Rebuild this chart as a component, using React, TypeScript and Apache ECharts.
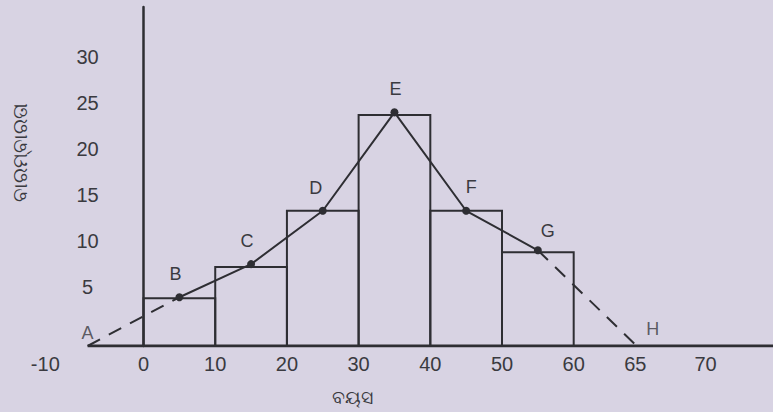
import React, { useEffect, useRef } from "react";
import * as echarts from "echarts";

// ---- data ----
const CLASS_EDGES = [0, 10, 20, 30, 40, 50, 60];
const FREQUENCIES = [3.8, 7.2, 13.3, 23.7, 13.3, 8.8];
const MIDPOINTS = [5, 15, 25, 35, 45, 55];
const POLYGON_Y = [3.9, 7.5, 13.3, 24.0, 13.3, 9.0];
const POINT_NAMES = ["B", "C", "D", "E", "F", "G"];
const END_NAMES = ["A", "H"];
const END_X = [-7.8, 68.8];

const X_TICK_LABELS = ["-10", "0", "10", "20", "30", "40", "50", "60", "65", "70"];
const X_TICK_VALUES = [-13.7, 0, 10, 20, 30, 40, 50, 60, 68.6, 78.4];
const Y_TICK_VALUES = [5, 10, 15, 20, 25, 30];

const X_AXIS_NAME = "ବୟସ";
const Y_AXIS_NAME = "ବାରମ୍ବାରତା";

// ---- layout / style ----
const GRID_LEFT = 36;
const X_MIN = -15;
const X_MAX = 87.8;
const Y_MIN = -1.4;
const Y_MAX = 35.45;
const INK = "#2e2e33";
const TEXT = "#3a3a40";
const BG = "#d8d3e3";
const FONT = "'Liberation Sans', Arial, sans-serif";
const POINT_LABEL_OFFSETS = [
  [-4, -23],
  [-4, -23],
  [-7, -23],
  [1, -23],
  [5, -24],
  [10, -19],
];
const END_LABEL_OFFSETS = [
  [0, -13],
  [16, -17],
];

export default function App() {
  const ref = useRef<HTMLDivElement>(null);

  useEffect(() => {
    if (!ref.current) return;
    const chart = echarts.init(ref.current, null, { renderer: "svg" });

    const barData = FREQUENCIES.map((f, i) => [CLASS_EDGES[i], CLASS_EDGES[i + 1], f]);
    const polygonData = MIDPOINTS.map((x, i) => ({
      value: [x, POLYGON_Y[i]],
      label: { offset: POINT_LABEL_OFFSETS[i] },
    }));
    const endData = END_X.map((x, i) => ({
      value: [x, Y_MIN],
      label: { offset: END_LABEL_OFFSETS[i] },
    }));

    const plotWidth = 773 - GRID_LEFT;
    // place the y axis where x = 0 lies on the x scale
    const yAxisOffset = -((0 - X_MIN) / (X_MAX - X_MIN)) * plotWidth;

    const option: any = {
      animation: false,
      backgroundColor: BG,
      textStyle: { fontFamily: FONT },
      grid: { left: GRID_LEFT, right: 0, top: 7, bottom: 66, outerBoundsMode: "none" },
      xAxis: {
        type: "value",
        min: X_MIN,
        max: X_MAX,
        axisLine: { show: false },
        axisTick: { show: false },
        splitLine: { show: false },
        axisLabel: {
          customValues: X_TICK_VALUES,
          margin: 8,
          fontSize: 20,
          color: TEXT,
          fontFamily: FONT,
          formatter: (v: number) => {
            const i = X_TICK_VALUES.findIndex((t) => Math.abs(t - v) < 0.01);
            return i >= 0 ? X_TICK_LABELS[i] : "";
          },
        },
      },
      yAxis: {
        type: "value",
        position: "left",
        offset: yAxisOffset,
        min: Y_MIN,
        max: Y_MAX,
        axisLine: { show: true, onZero: false, lineStyle: { color: INK, width: 2.5 } },
        axisTick: { show: false },
        splitLine: { show: false },
        axisLabel: {
          customValues: Y_TICK_VALUES,
          margin: 56,
          align: "center",
          fontSize: 20,
          color: TEXT,
          fontFamily: FONT,
        },
      },
      graphic: [
        {
          type: "text",
          x: 20,
          y: 152,
          rotation: Math.PI / 2,
          style: {
            text: Y_AXIS_NAME,
            fill: TEXT,
            fontSize: 20,
            fontFamily: FONT,
            align: "center",
            verticalAlign: "middle",
          },
        },
        {
          type: "text",
          x: 352,
          y: 397,
          style: {
            text: X_AXIS_NAME,
            fill: TEXT,
            fontSize: 19,
            fontFamily: FONT,
            align: "center",
            verticalAlign: "middle",
          },
        },
      ],
      series: [
        {
          type: "custom",
          name: "histogram",
          data: barData,
          encode: { x: [0, 1], y: 2 },
          silent: true,
          renderItem: (_params: any, api: any) => {
            const x0 = api.value(0);
            const x1 = api.value(1);
            const h = api.value(2);
            const p0 = api.coord([x0, h]);
            const p1 = api.coord([x1, Y_MIN]);
            return {
              type: "rect",
              shape: { x: p0[0], y: p0[1], width: p1[0] - p0[0], height: p1[1] - p0[1] },
              style: { fill: "none", stroke: INK, lineWidth: 2 },
            };
          },
        },
        {
          type: "line",
          name: "x axis",
          data: [
            [END_X[0], Y_MIN],
            [X_MAX, Y_MIN],
          ],
          showSymbol: false,
          silent: true,
          lineStyle: { color: INK, width: 3 },
        },
        {
          type: "line",
          name: "lead-in",
          data: [
            [END_X[0], Y_MIN],
            [MIDPOINTS[0], POLYGON_Y[0]],
          ],
          showSymbol: false,
          silent: true,
          lineStyle: { color: INK, width: 2, type: [14, 10] },
        },
        {
          type: "line",
          name: "lead-out",
          data: [
            [MIDPOINTS[MIDPOINTS.length - 1], POLYGON_Y[POLYGON_Y.length - 1]],
            [END_X[1], Y_MIN],
          ],
          showSymbol: false,
          silent: true,
          lineStyle: { color: INK, width: 2, type: [14, 10] },
        },
        {
          type: "line",
          name: "frequency polygon",
          data: polygonData,
          symbol: "circle",
          symbolSize: 8,
          showSymbol: true,
          itemStyle: { color: INK },
          lineStyle: { color: INK, width: 2 },
          label: {
            show: true,
            position: "inside",
            fontSize: 18,
            color: TEXT,
            fontFamily: FONT,
            formatter: (p: any) => POINT_NAMES[p.dataIndex],
          },
        },
        {
          type: "scatter",
          name: "ends",
          data: endData,
          symbolSize: 1,
          itemStyle: { color: "rgba(0,0,0,0)" },
          label: {
            show: true,
            position: "inside",
            fontSize: 18,
            color: TEXT,
            fontFamily: FONT,
            formatter: (p: any) => END_NAMES[p.dataIndex],
          },
        },
      ],
    };

    chart.setOption(option);
    return () => chart.dispose();
  }, []);

  return (
    <div
      ref={ref}
      style={{ position: "fixed", left: 0, top: 0, width: 773, height: 412 }}
    />
  );
}
